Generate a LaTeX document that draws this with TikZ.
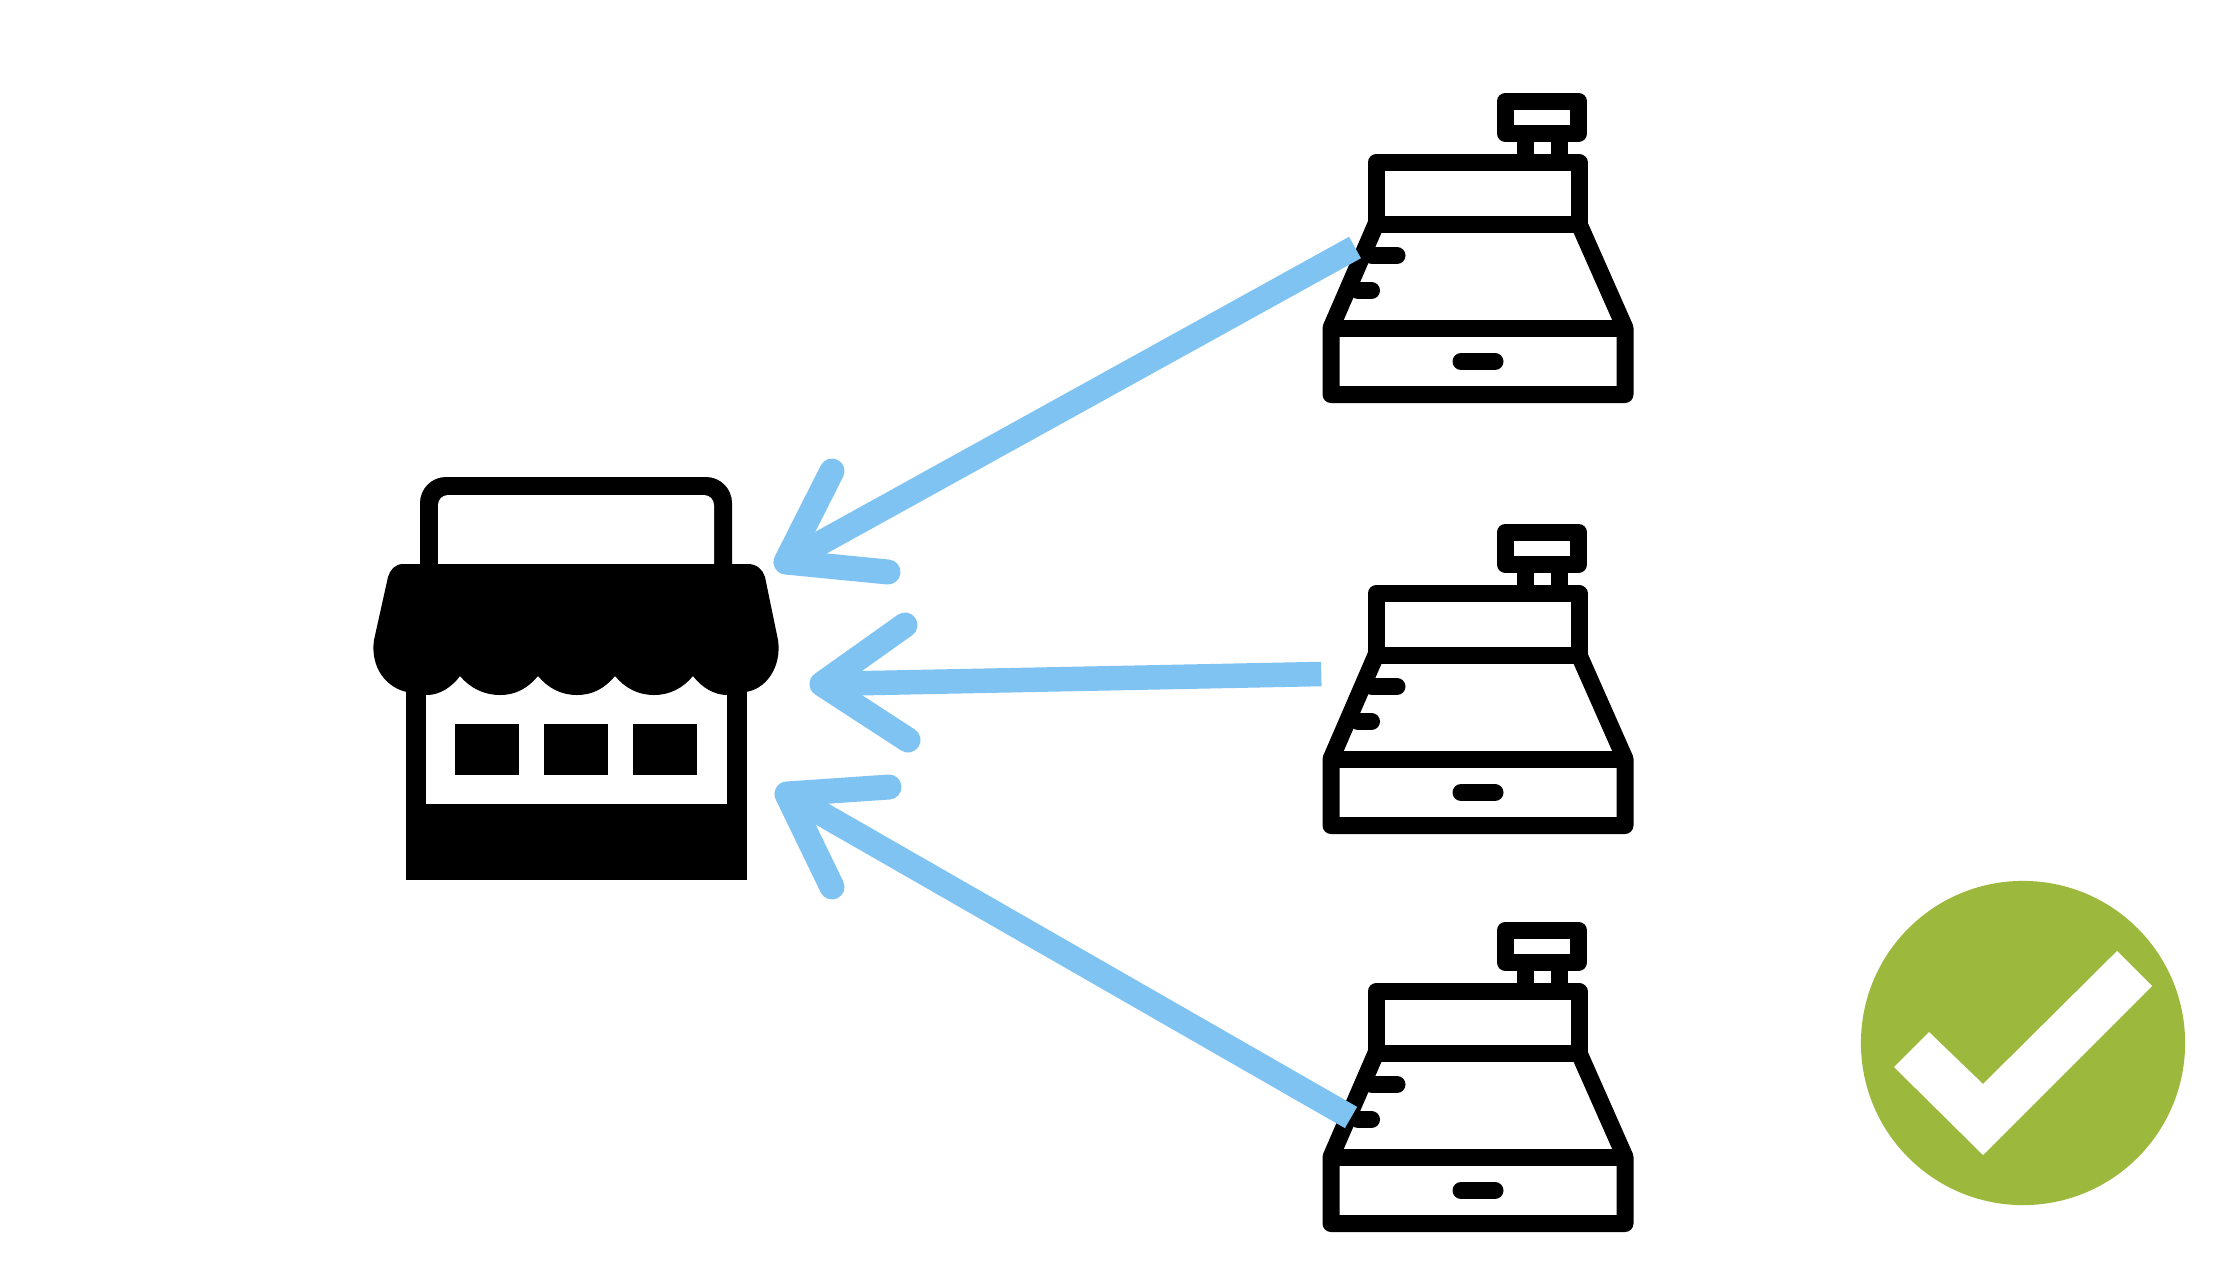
\documentclass[tikz,border=0pt]{standalone}
\definecolor{arrowblue}{HTML}{7FC3F2}
\definecolor{okgreen}{HTML}{9DB93D}
\tikzset{
  x=0.01cm,y=-0.01cm,
  iconline/.style={draw=black,line width=0.17cm,line join=round,line cap=butt},
  iconbar/.style={draw=black,line width=0.17cm,line cap=round},
  shaft/.style={draw=arrowblue,line width=0.245cm,line cap=butt},
  barbs/.style={draw=arrowblue,line width=0.25cm,line cap=round,line join=round},
  anchorbox/.style={inner sep=0pt,outer sep=0pt,minimum width=3.1cm,minimum height=3.1cm},
  register/.pic={
    \path[iconline] (1376,224) -- (1331,328) -- (1331,394.5) -- (1625,394.5) -- (1625,328) -- (1579,224);
    \path[iconline] (1331,328.5) -- (1625,328.5);
    \path[iconline] (1376,224) rectangle (1579,162.5);
    \path[iconline] (1505.5,101) rectangle (1578.5,133.5);
    \path[iconline] (1525,134) -- (1525,162);
    \path[iconline] (1559.5,134) -- (1559.5,162);
    \path[iconbar] (1461,361.5) -- (1495,361.5);
    \path[iconbar] (1372,255.5) -- (1397,255.5);
    \path[iconbar] (1358,290.5) -- (1371.5,290.5);
  }
}
\begin{document}
\begin{tikzpicture}
\useasboundingbox (0,0) rectangle (2240,1260);
\fill[white] (0,0) rectangle (2240,1260);

% Store
\node[anchorbox] (store) at (576,678) {};
\fill[black,rounded corners=0.26cm] (420,600) -- (420,477) -- (732,477) -- (732,600) -- cycle;
\fill[white,rounded corners=0.1cm] (438,600) -- (438,495) -- (714,495) -- (714,600) -- cycle;
\fill[black] (406,640) rectangle (747,880);
\fill[white] (426,670) rectangle (727,804);
\fill[black] (403,564) -- (748,564)
  .. controls (757,564) and (763,570) .. (765,577)
  -- (778,640)
  .. controls (782,668) and (765,690) .. (745,692)
  -- (727,695)
  .. controls (715,695) and (702,688) .. (693,676)
  .. controls (683,688) and (670,695) .. (654,695)
  .. controls (638,695) and (625,688) .. (615,676)
  .. controls (605,688) and (593,695) .. (577,695)
  .. controls (561,695) and (548,688) .. (538,676)
  .. controls (528,688) and (516,695) .. (500,695)
  .. controls (484,695) and (470,688) .. (460,676)
  .. controls (451,688) and (439,695) .. (427,695)
  -- (407,692)
  .. controls (387,688) and (370,668) .. (374,640)
  -- (388,577)
  .. controls (390,570) and (395,564) .. (403,564) -- cycle;
\fill[black] (455,724) rectangle (519,775);
\fill[black] (544,724) rectangle (608,775);
\fill[black] (633,724) rectangle (697,775);

% Registers
\pic at (0,0) {register};
\pic at (0,431) {register};
\pic at (0,829) {register};
\node[anchorbox] (regA) at (1478,248) {};
\node[anchorbox] (regB) at (1478,679) {};
\node[anchorbox] (regC) at (1478,1077) {};

% Arrow end points
\coordinate (tailA) at (1355,247.5);
\coordinate (tipA) at (786,562);
\coordinate (barbA1) at (832,471);
\coordinate (barbA2) at (888,572);
\coordinate (tailB) at (1321.3,674);
\coordinate (tipB) at (822,684);
\coordinate (barbB1) at (905,625);
\coordinate (barbB2) at (908,740);
\coordinate (tailC) at (1351,1117.5);
\coordinate (tipC) at (787,794);
\coordinate (barbC1) at (889,787);
\coordinate (barbC2) at (832,887);

\draw[shaft] (tailA) -- (tipA);
\draw[barbs] (barbA1) -- (tipA) -- (barbA2);
\draw[shaft] (tailB) -- (tipB);
\draw[barbs] (barbB1) -- (tipB) -- (barbB2);
\draw[shaft] (tailC) -- (tipC);
\draw[barbs] (barbC1) -- (tipC) -- (barbC2);

% Check badge
\node[circle,fill=okgreen,minimum size=3.24cm,inner sep=0pt,outer sep=0pt] (badge) at (2023,1043) {};
\fill[white] (1894,1067) -- (1929,1032) -- (1983,1084) -- (2117,951) -- (2152,986) -- (1983,1155) -- cycle;
\end{tikzpicture}
\end{document}
